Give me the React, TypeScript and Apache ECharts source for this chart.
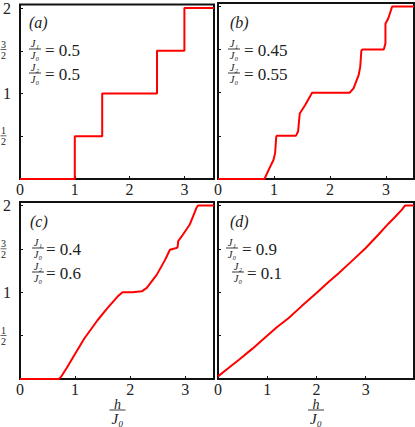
import React, { useEffect, useRef } from "react";
import * as echarts from "echarts";

// ---- data (h/J0 , magnetisation) ----
const hA = [0, 1, 1, 1.5, 1.5, 2.5, 2.5, 3, 3, 3.54];
const mA = [0, 0, 0.5, 0.5, 1, 1, 1.5, 1.5, 2, 2];

const hB = [0, 0.83, 0.9, 0.99, 1.02, 1.04, 1.05, 1.39, 1.43, 1.46, 1.56, 1.68, 2.35, 2.42, 2.51, 2.54, 2.56, 2.58, 2.96, 2.99, 2.99, 3.04, 3.11, 3.5];
const mB = [0, 0, 0.1, 0.22, 0.3, 0.49, 0.5, 0.5, 0.55, 0.76, 0.86, 1.0, 1.0, 1.05, 1.2, 1.3, 1.49, 1.5, 1.5, 1.57, 1.8, 1.86, 2.0, 2.0];

const hC = [0, 0.7, 0.74, 0.85, 0.99, 1.17, 1.41, 1.59, 1.77, 1.86, 2.04, 2.21, 2.3, 2.48, 2.63, 2.72, 2.84, 2.86, 2.87, 2.93, 3.08, 3.2, 3.23, 3.52];
const mC = [0, 0, 0.02, 0.13, 0.28, 0.47, 0.68, 0.82, 0.95, 1.0, 1.0, 1.01, 1.05, 1.2, 1.37, 1.49, 1.51, 1.52, 1.59, 1.64, 1.78, 1.97, 2.0, 2.0];

const hD = [0, 0.2, 0.42, 0.7, 0.98, 1.2, 1.43, 1.7, 2.0, 2.25, 2.45, 2.7, 3.0, 3.25, 3.46, 3.6, 3.73, 3.8, 3.98];
const mD = [0.03, 0.12, 0.22, 0.35, 0.49, 0.6, 0.7, 0.84, 0.99, 1.12, 1.22, 1.35, 1.51, 1.66, 1.79, 1.87, 1.95, 2.0, 2.0];

const panelLabels = ["(a)", "(b)", "(c)", "(d)"];
const j1Values = ["0.5", "0.45", "0.4", "0.9"];
const j2Values = ["0.5", "0.55", "0.6", "0.1"];
const xMaxes = [3.54, 3.5, 3.52, 3.98];
const yMax = 2.04;
const yWholeLabels: Record<string, string> = { "1": "1", "2": "2" };
const yFracTicks = [
  { v: 0.5, n: "1", d: "2" },
  { v: 1.5, n: "3", d: "2" },
];

const series = [
  { h: hA, m: mA },
  { h: hB, m: mB },
  { h: hC, m: mC },
  { h: hD, m: mD },
];

// ---- layout ----
const grids = [
  { left: 17, top: 3, width: 197, height: 176 },
  { left: 218, top: 3, width: 196, height: 176 },
  { left: 17, top: 202, width: 197, height: 177 },
  { left: 218, top: 202, width: 196, height: 177 },
];
// per-panel annotation offsets: [fraction1 cx, eq1 x, fraction2 cx, eq2 x, label x]
const annOffsets = [
  [18, 28, 18, 28, 12],
  [16, 26, 16, 26, 12],
  [21, 29, 21, 29, 13],
  [14, 24, 20, 29, 12],
];

const SERIF = "Liberation Serif";
const INK = "#222";

function txt(x: number, y: number, text: string, size: number, italic = false, align = "center") {
  const style: any = {
    text,
    fill: INK,
    fontSize: size,
    fontFamily: SERIF,
    textAlign: align,
    textVerticalAlign: "middle",
  };
  if (italic) style.fontStyle = "italic";
  return { type: "text", x, y, style };
}
function hbar(x1: number, x2: number, y: number, w = 0.9) {
  return {
    type: "rect",
    shape: { x: x1, y: y - w / 2, width: x2 - x1, height: w },
    style: { fill: INK },
  };
}

// pixel row of a y value inside a grid (same linear map as the value axis 0..yMax)
function yPix(gi: number, v: number) {
  const g = grids[gi];
  return g.top + g.height * (1 - v / yMax);
}

function buildGraphics() {
  const g: any[] = [];
  [0, 2].forEach((gi) => {
    yFracTicks.forEach((f) => {
      const py = yPix(gi, f.v);
      g.push(txt(3.5, py - 5, f.n, 10));
      g.push(hbar(0.5, 6.5, py, 0.7));
      g.push(txt(3.5, py + 5.5, f.d, 10));
    });
  });
  grids.forEach((gr, i) => {
    const L = gr.left;
    const T = gr.top;
    const [f1x, e1x, f2x, e2x, lx] = annOffsets[i];
    g.push(txt(L + lx, T + 19, panelLabels[i], 16, true, "left"));
    g.push(txt(L + f1x, T + 40.5, "J\u2081", 10.5, true));
    g.push(hbar(L + f1x - 6, L + f1x + 6, T + 46));
    g.push(txt(L + f1x, T + 52, "J\u2080", 10.5, true));
    g.push(txt(L + e1x, T + 47, "= " + j1Values[i], 17, false, "left"));
    g.push(txt(L + f2x, T + 64.5, "J\u2082", 10.5, true));
    g.push(hbar(L + f2x - 6, L + f2x + 6, T + 70));
    g.push(txt(L + f2x, T + 76, "J\u2080", 10.5, true));
    g.push(txt(L + e2x, T + 71, "= " + j2Values[i], 17, false, "left"));
  });
  [2, 3].forEach((gi) => {
    const gr = grids[gi];
    const cx = gr.left + gr.width / 2 + (gi === 2 ? 2 : 0);
    g.push(txt(cx, 404, "h", 14, true));
    g.push(hbar(cx - 8, cx + 8, 410, 0.9));
    g.push(txt(cx, 419, "J\u2080", 15, true));
  });
  return g;
}

function buildOption() {
  return {
    animation: false,
    grid: grids.map((g) => ({
      ...g,
      show: true,
      borderColor: "#111",
      borderWidth: 2,
    })),
    xAxis: grids.map((_, i) => ({
      type: "value",
      gridIndex: i,
      min: 0,
      max: xMaxes[i],
      interval: 1,
      axisLine: { show: false },
      splitLine: { show: false },
      axisTick: { show: true, inside: true, length: 3, lineStyle: { color: "#111", width: 1 } },
      axisLabel: {
        margin: 2,
        fontSize: 16,
        fontFamily: SERIF,
        color: INK,
        showMaxLabel: false,
        formatter: (v: number) => (Number.isInteger(v) ? String(v) : ""),
      },
    })),
    yAxis: grids.map((_, i) => ({
      type: "value",
      gridIndex: i,
      min: 0,
      max: yMax,
      interval: 0.5,
      axisLine: { show: false },
      splitLine: { show: false },
      axisTick: { show: true, inside: true, length: 3, lineStyle: { color: "#111", width: 1 } },
      axisLabel: {
        show: i === 0 || i === 2,
        margin: 9,
        fontSize: 16,
        fontFamily: SERIF,
        color: INK,
        showMaxLabel: false,
        formatter: (v: number) => yWholeLabels[String(v)] ?? "",
      },
    })),
    series: series.map((s, i) => ({
      type: "line",
      xAxisIndex: i,
      yAxisIndex: i,
      data: s.h.map((h, k) => [h, s.m[k]]),
      showSymbol: false,
      clip: false,
      lineStyle: { color: "#ff0000", width: 2 },
      z: 3,
    })),
    graphic: buildGraphics(),
  };
}

export default function App() {
  const ref = useRef<HTMLDivElement>(null);
  useEffect(() => {
    const chart = echarts.init(ref.current!, null, { renderer: "svg" });
    chart.setOption(buildOption());
    return () => chart.dispose();
  }, []);
  return (
    <div
      ref={ref}
      style={{ position: "absolute", left: 0, top: 0, width: 415, height: 427 }}
    />
  );
}
